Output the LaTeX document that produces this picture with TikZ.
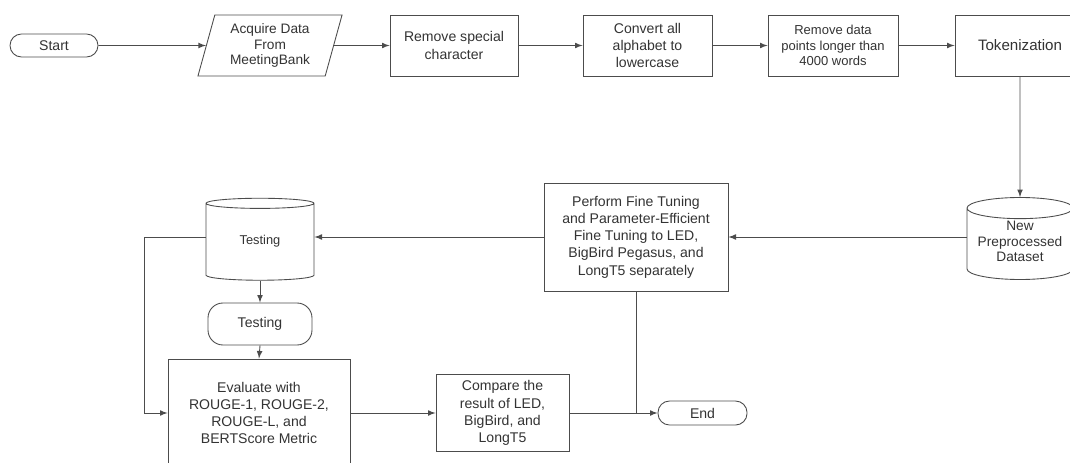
\documentclass[tikz,border=0pt]{standalone}
\usepackage{fontspec}
\setmainfont{Liberation Sans}
\usepackage{xcolor}
\usetikzlibrary{shapes.geometric}

% text of a cylinder, kept out of its size
\newcommand{\storetext}[1]{\smash{\raisebox{-0.05cm}{\begin{tabular}{@{}c@{}}#1\end{tabular}}}}

\begin{document}
\begin{tikzpicture}[
    line width=0.5pt, draw=black!70,
    box/.style={draw=black!70, rectangle, minimum width=2.6cm, minimum height=1.22cm, align=center, text=black!80, font=\fontsize{8}{9.8}\selectfont},
    term/.style={draw=black!70, rectangle, rounded corners=0.23cm, minimum width=1.76cm, minimum height=0.46cm, text=black!80, font=\fontsize{8}{9.8}\selectfont},
    io/.style={draw=black!70, trapezium, trapezium left angle=76, trapezium right angle=104, trapezium stretches=true, minimum width=2.9cm, minimum height=1.22cm, align=center, text=black!80, font=\fontsize{7.8}{9}\selectfont},
    store/.style={draw=black!70, cylinder, shape border rotate=90, aspect=0.25, inner sep=0pt, text=black!80, font=\fontsize{7.3}{8.8}\selectfont},
    arrow/.style={-latex, line width=0.5pt, draw=black!70}
  ]
    \clip (0,0) rectangle (21.4,-9.24);

    % Preprocessing row
    \node[term] (start) at (1.08,-0.91) {Start};
    \node[io] (acquire) at (5.40,-0.91) {Acquire Data\\From\\MeetingBank};
    \node[box, minimum width=2.56cm] (rmspec) at (9.08,-0.91) {Remove special\\character};
    \node[box, minimum width=2.58cm] (lower) at (12.95,-0.91) {Convert all\\alphabet to\\lowercase};
    \node[box, font=\fontsize{7.4}{8.8}\selectfont] (rmlong) at (16.66,-0.91) {Remove data\\points longer than\\4000 words};
    \node[box, font=\fontsize{8.6}{10}\selectfont] (token) at (20.40,-0.91) {Tokenization};

    % Training row
    \node[store, minimum width=2.12cm, minimum height=1.64cm, font=\fontsize{7.8}{8.8}\selectfont] (newdata) at (20.40,-4.88) {\storetext{New\\Preprocessed\\Dataset}};
    \node[box, minimum width=3.68cm, minimum height=2.16cm] (perform) at (12.72,-4.74) {Perform Fine Tuning\\and Parameter-Efficient\\Fine Tuning to LED,\\BigBird Pegasus, and\\LongT5 separately};
    \node[store, minimum width=2.16cm, minimum height=1.64cm] (testdb) at (5.20,-4.84) {\storetext{Testing}};

    % Evaluation
    \node[term, rounded corners=0.3cm, minimum width=2.08cm, minimum height=0.84cm] (testing) at (5.20,-6.48) {Testing};
    \node[box, minimum width=3.64cm, minimum height=2.16cm] (evalbox) at (5.18,-8.26) {Evaluate with\\ROUGE-1, ROUGE-2,\\ROUGE-L, and\\BERTScore Metric};
    \node[box, minimum width=2.66cm, minimum height=1.46cm] (compare) at (10.05,-8.26) {Compare the\\result of LED,\\BigBird, and\\LongT5};
    \node[term, minimum width=1.78cm, minimum height=0.48cm] (finish) at (14.05,-8.26) {End};

    % Arrows
    \draw[arrow] (start) -- (acquire);
    \draw[arrow] (acquire) -- (rmspec);
    \draw[arrow] (rmspec) -- (lower);
    \draw[arrow] (lower) -- (rmlong);
    \draw[arrow] (rmlong) -- (token);
    \draw[arrow] (token.south) -- (newdata.north);
    \draw[arrow] (perform.east -| newdata.west) -- (perform.east);
    \draw[arrow] (perform.west) -- (perform.west -| testdb.east);
    \draw[arrow] (perform.west -| testdb.west) -- ++(-1.22,0) |- (evalbox.west);
    \draw[arrow] (testdb.south) -- (testing.north);
    \draw[arrow] (testing.south) -- (evalbox.north);
    \draw[arrow] (evalbox.east) -- (compare.west);
    \draw[arrow] (compare.east) -- (finish.west);
    \draw (perform.south) -- (perform.south |- finish.west);
  \end{tikzpicture}
\end{document}
